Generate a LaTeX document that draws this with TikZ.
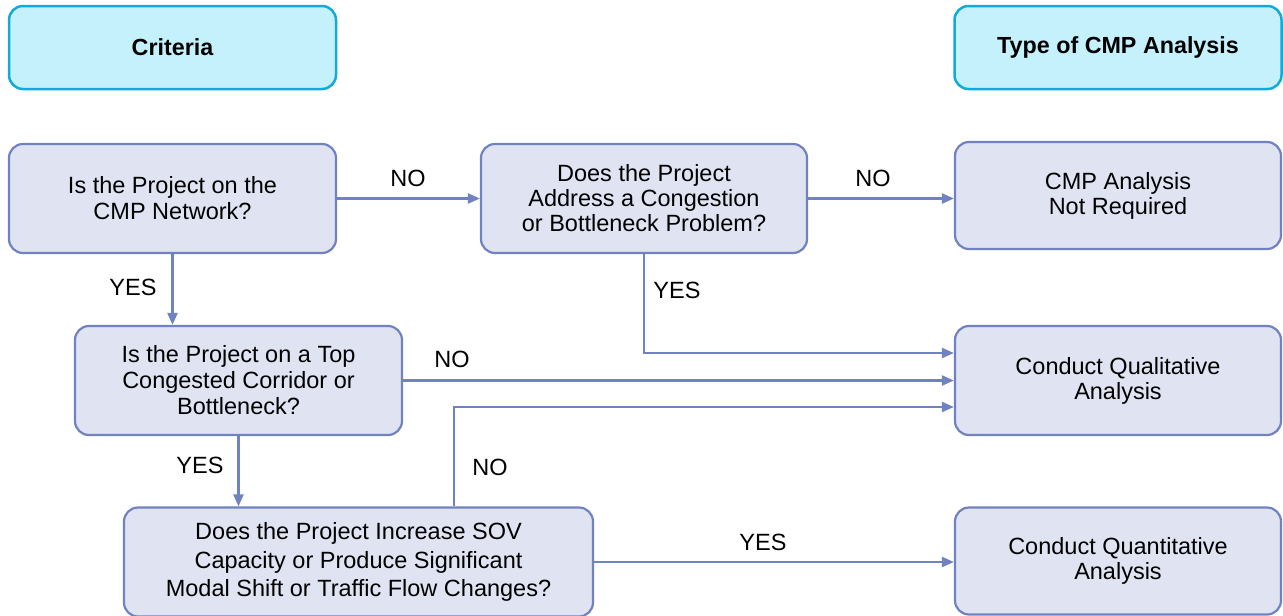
\documentclass[tikz,border=0pt]{standalone}
\usepackage{fontspec}
\setmainfont{Liberation Sans}
\usetikzlibrary{arrows.meta}
\definecolor{hdrfill}{HTML}{C5F1FD}
\definecolor{hdrline}{HTML}{12AAD6}
\definecolor{boxfill}{HTML}{E0E4F2}
\definecolor{boxline}{HTML}{7082C0}
\begin{document}
\begin{tikzpicture}[x=1pt,y=-1pt,
  hdr/.style={draw=hdrline,fill=hdrfill,line width=2.5pt,rounded corners=14pt,
    font=\fontsize{23.3}{27}\selectfont\bfseries,inner sep=0pt,
    minimum width=327pt,minimum height=83pt},
  box/.style={draw=boxline,fill=boxfill,line width=2.2pt,rounded corners=14pt,
    align=center,font=\fontsize{23.5}{26}\selectfont,inner sep=0pt,
    minimum width=327pt,minimum height=109pt},
  arr/.style={draw=boxline,line width=2.2pt,-{Triangle[length=12pt,width=10pt]}},
  lbl/.style={font=\fontsize{23.5}{27}\selectfont,inner sep=0pt}]
\useasboundingbox (0,0) rectangle (1283,616);
\node[hdr] (crit) at (172.5,47.5) {Criteria};
\node[hdr] (type) at (1118,47.5) {Type of CMP Analysis};
\node[box] (A) at (172.5,198.5) {Is the Project on the\\CMP Network?};
\node[box,minimum width=326pt,font=\fontsize{23.5}{25}\selectfont] (B) at (644,198.5) {Does the Project\\Address a Congestion\\or Bottleneck Problem?};
\node[box,minimum width=326pt,minimum height=107pt,font=\fontsize{23.5}{25}\selectfont] (C) at (1118,195.5) {CMP Analysis\\Not Required};
\node[box] (D) at (238.5,380.5) {Is the Project on a Top\\Congested Corridor or\\Bottleneck?};
\node[box,minimum width=326pt,font=\fontsize{23.5}{25}\selectfont] (E) at (1118,380.5) {Conduct Qualitative\\Analysis};
\node[box,minimum width=469pt,minimum height=109pt,font=\fontsize{23.5}{28.5}\selectfont] (F) at (358.5,562) {Does the Project Increase SOV\\Capacity or Produce Significant\\Modal Shift or Traffic Flow Changes?};
\node[box,minimum width=326pt,minimum height=107pt,font=\fontsize{23.5}{25}\selectfont] (G) at (1118,561) {Conduct Quantitative\\Analysis};
\draw[arr] (A.east) -- (B.west);
\draw[arr] (B.east) -- (B.east -| C.west);
\draw[arr] (A.south) -- (A.south |- D.north);
\draw[arr] (B.south) |- ([yshift=27.5pt]E.west);
\draw[arr] (D.east) -- (E.west);
\draw[arr] (D.south) -- (D.south |- F.north);
\draw[arr] ([xshift=95.5pt]F.north) |- ([yshift=-26.5pt]E.west);
\draw[arr] (F.east) -- (F.east -| G.west);
\node[lbl] (l1) at (408,178) {NO};
\node[lbl] (l2) at (873,178) {NO};
\node[lbl] (l3) at (133,287) {YES};
\node[lbl] (l4) at (677,290) {YES};
\node[lbl] (l5) at (452,359) {NO};
\node[lbl] (l6) at (200,465) {YES};
\node[lbl] (l7) at (490,467) {NO};
\node[lbl] (l8) at (763,542) {YES};
\end{tikzpicture}
\end{document}
